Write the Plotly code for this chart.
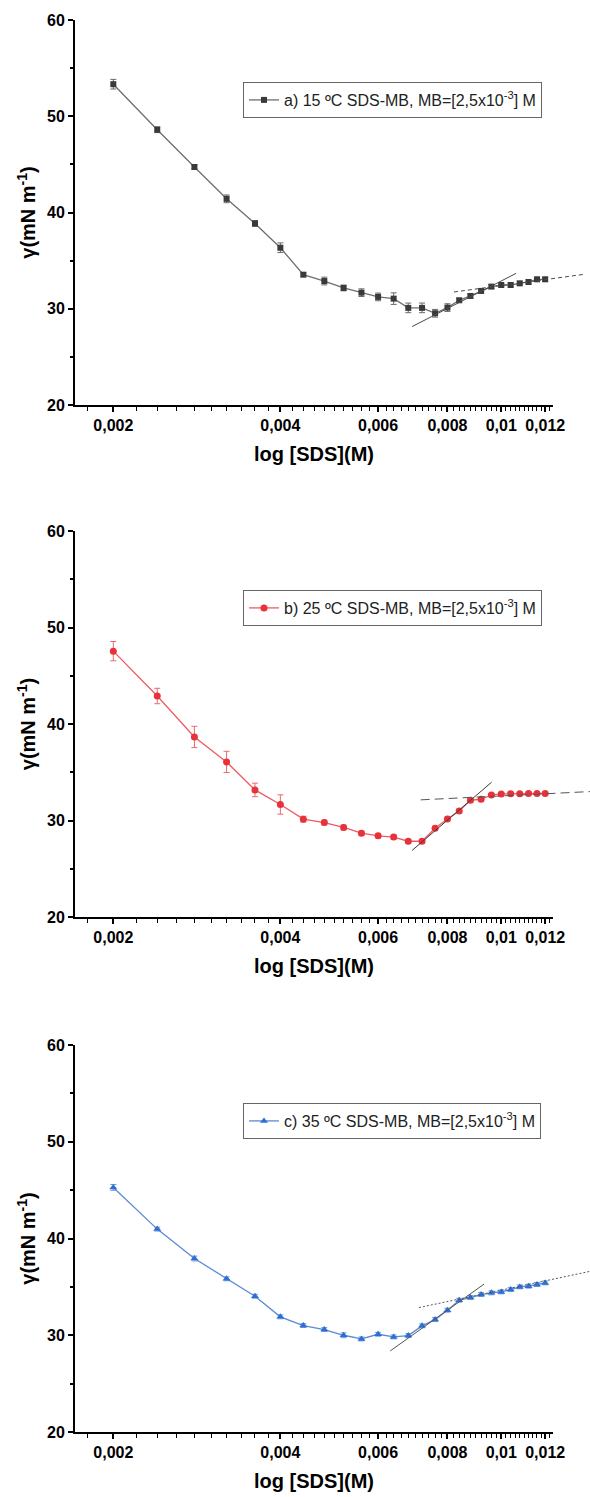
import plotly.graph_objects as go

# ---------------- data ----------------
conc = [0.0020, 0.0024, 0.0028, 0.0032, 0.0036, 0.0040, 0.0044, 0.0048, 0.0052,
        0.0056, 0.0060, 0.0064, 0.0068, 0.0072, 0.0076, 0.0080, 0.0084, 0.0088,
        0.0092, 0.0096, 0.0100, 0.0104, 0.0108, 0.0112, 0.0116, 0.0120]

gamma_15 = [53.33, 48.60, 44.73, 41.42, 38.86, 36.34, 33.54, 32.88, 32.16, 31.67,
            31.23, 31.05, 30.09, 30.09, 29.53, 30.12, 30.88, 31.33, 31.85, 32.30,
            32.47, 32.47, 32.64, 32.78, 33.06, 33.06]
err_15 = [0.5, 0.3, 0.2, 0.4, 0.3, 0.5, 0.2, 0.4, 0.3, 0.4, 0.4, 0.6, 0.5, 0.5,
          0.4, 0.4, 0.2, 0.2, 0.2, 0.2, 0.2, 0.2, 0.2, 0.2, 0.2, 0.2]

gamma_25 = [47.55, 42.90, 38.66, 36.07, 33.17, 31.66, 30.14, 29.79, 29.28, 28.69,
            28.41, 28.28, 27.85, 27.85, 29.19, 30.16, 30.98, 32.10, 32.20, 32.64,
            32.75, 32.78, 32.78, 32.80, 32.80, 32.80]
err_25 = [1.0, 0.8, 1.1, 1.1, 0.7, 1.0, 0.3, 0.25, 0.25, 0.2, 0.2, 0.2, 0.2, 0.2,
          0.2, 0.2, 0.2, 0.2, 0.2, 0.15, 0.15, 0.15, 0.15, 0.15, 0.15, 0.15]

gamma_35 = [45.28, 40.97, 37.93, 35.83, 34.03, 31.90, 31.00, 30.59, 30.00, 29.62,
            30.10, 29.83, 29.97, 30.97, 31.62, 32.59, 33.62, 33.90, 34.21, 34.38,
            34.48, 34.72, 35.00, 35.07, 35.24, 35.41]
err_35 = [0.3, 0.2, 0.25, 0.2, 0.2, 0.2, 0.2, 0.2, 0.25, 0.2, 0.2, 0.2, 0.2, 0.2,
          0.2, 0.2, 0.2, 0.2, 0.2, 0.2, 0.2, 0.2, 0.2, 0.2, 0.2, 0.2]

# linear fits (end points)
fit15_steep_x = [0.00691, 0.01064]; fit15_steep_y = [28.15, 33.68]
fit15_plat_x = [0.00822, 0.01411];  fit15_plat_y = [31.74, 33.58]
fit25_steep_x = [0.00691, 0.00961]; fit25_steep_y = [26.90, 33.97]
fit25_plat_x = [0.00716, 0.01450];  fit25_plat_y = [32.14, 33.00]
fit35_steep_x = [0.00631, 0.00931]; fit35_steep_y = [28.38, 35.28]
fit35_plat_x = [0.00711, 0.01450];  fit35_plat_y = [32.86, 36.62]

labels = ["a) 15 ºC SDS-MB, MB=[2,5x10<sup>-3</sup>] M",
          "b) 25 ºC SDS-MB, MB=[2,5x10<sup>-3</sup>] M",
          "c) 35 ºC SDS-MB, MB=[2,5x10<sup>-3</sup>] M"]

x_tickvals = [0.002, 0.004, 0.006, 0.008, 0.010, 0.012]
x_ticktext = ["0,002", "0,004", "0,006", "0,008", "0,01", "0,012"]
x_minor = [0.0018, 0.0022, 0.0024, 0.0026, 0.0028, 0.0030, 0.0032, 0.0034, 0.0036,
           0.0038, 0.0042, 0.0044, 0.0046, 0.0048, 0.0050, 0.0052, 0.0054, 0.0056,
           0.0058, 0.0062, 0.0064, 0.0066, 0.0068, 0.0070, 0.0072, 0.0074, 0.0076,
           0.0078, 0.0082, 0.0084, 0.0086, 0.0088, 0.0090, 0.0092, 0.0094, 0.0096,
           0.0098, 0.0102, 0.0104, 0.0106, 0.0108, 0.0110, 0.0112, 0.0114, 0.0116,
           0.0118, 0.0122, 0.0124]
y_tickvals = [20, 30, 40, 50, 60]
y_minor = [25, 35, 45, 55]

# ---------------- layout geometry ----------------
W, H = 590, 1497
ML, MR, MT, MB = 75, 0, 20, 65
pw = W - ML - MR
ph = H - MT - MB
plot_right_px = 553
xd = (plot_right_px - ML) / pw
x_lo, x_hi = -2.768, -1.9067
x4_hi = x_lo + (x_hi - x_lo) / xd

def ydom(top_px, bot_px):
    base = H - MB
    return [(base - bot_px) / ph, (base - top_px) / ph]

panels = [
    dict(top=20, bot=405, leg_top=82),
    dict(top=531, bot=917, leg_top=590),
    dict(top=1045, bot=1432, leg_top=1103),
]

FONT = "Liberation Sans, Arial, sans-serif"

series = [
    dict(y=gamma_15, e=err_15, sym="square", msize=6, mcol="#3a3a3a", lcol="#6e6e6e",
         ecol="#6a6a6a", fits=[(fit15_steep_x, fit15_steep_y, "solid", "#4a4a4a"),
                               (fit15_plat_x, fit15_plat_y, "4px,3px", "#4a4a4a")]),
    dict(y=gamma_25, e=err_25, sym="circle", msize=7, mcol="#e8323b", lcol="#ef5a5f",
         ecol="#e86a6e", fits=[(fit25_steep_x, fit25_steep_y, "solid", "#3a3a3a"),
                               (fit25_plat_x, fit25_plat_y, "9px,5px", "#555555")]),
    dict(y=gamma_35, e=err_35, sym="triangle-up", msize=7, mcol="#2f6fd4", lcol="#5a8ad4",
         ecol="#6f9ae0", fits=[(fit35_steep_x, fit35_steep_y, "solid", "#555555"),
                               (fit35_plat_x, fit35_plat_y, "2px,2px", "#555555")]),
]

fig = go.Figure()
legend_names = ["legend", "legend2", "legend3"]

for i, (s, p) in enumerate(zip(series, panels)):
    xa = "x" if i == 0 else f"x{i+1}"
    ya = "y" if i == 0 else f"y{i+1}"
    fig.add_trace(go.Scatter(
        x=conc, y=s["y"], mode="lines+markers", name=labels[i],
        xaxis=xa, yaxis=ya, legend=legend_names[i],
        line=dict(color=s["lcol"], width=1.3),
        marker=dict(symbol=s["sym"], size=s["msize"], color=s["mcol"]),
        error_y=dict(type="data", array=s["e"], visible=True, color=s["ecol"],
                     thickness=1, width=3),
    ))
    for fx, fy, dash, col in s["fits"]:
        fig.add_trace(go.Scatter(
            x=fx, y=fy, mode="lines", xaxis="x4", yaxis=ya, showlegend=False,
            line=dict(color=col, width=1, dash=dash), hoverinfo="skip",
        ))

axis_common = dict(showline=True, linecolor="black", linewidth=1.8, ticks="outside",
                   tickcolor="black", tickwidth=1.5, ticklen=5, showgrid=False,
                   zeroline=False, automargin=False,
                   tickfont=dict(family=FONT, size=16, color="black", weight="bold"))

layout = dict(
    width=W, height=H, margin=dict(l=ML, r=MR, t=MT, b=MB),
    paper_bgcolor="white", plot_bgcolor="rgba(0,0,0,0)",
    font=dict(family=FONT, color="black"),
    xaxis4=dict(domain=[0, 1], type="log", range=[x_lo, x4_hi], visible=False,
                anchor="y", fixedrange=True),
)

for i, p in enumerate(panels):
    sx = "" if i == 0 else str(i + 1)
    ya = "y" if i == 0 else f"y{i+1}"
    xa = "x" if i == 0 else f"x{i+1}"
    layout["xaxis" + sx] = dict(
        domain=[0, xd], anchor=ya, type="log", range=[x_lo, x_hi],
        tickmode="array", tickvals=x_tickvals, ticktext=x_ticktext,
        minor=dict(tickmode="array", tickvals=x_minor, ticks="outside", ticklen=4,
                   tickwidth=1.2, tickcolor="black", showgrid=False),
        title=dict(text="<b>log [SDS](M)</b>", font=dict(family=FONT, size=20, color="black"),
                   standoff=14),
        **axis_common)
    layout["yaxis" + sx] = dict(
        domain=ydom(p["top"], p["bot"]), anchor=xa, range=[20, 60],
        tickmode="array", tickvals=y_tickvals,
        minor=dict(tickmode="array", tickvals=y_minor, ticks="outside",
                   ticklen=3, tickwidth=1.5, tickcolor="black", showgrid=False),
        title=dict(text="<b>γ(mN m<sup>-1</sup>)</b>", font=dict(family=FONT, size=20, color="black"),
                   standoff=6),
        **axis_common)
    layout[legend_names[i]] = dict(
        x=(243 - ML) / pw, xanchor="left",
        y=(H - MB - p["leg_top"]) / ph, yanchor="top",
        bgcolor="white", bordercolor="#666666", borderwidth=1,
        font=dict(family=FONT, size=16, color="#222222"),
        itemwidth=30, tracegroupgap=0,
    )

fig.update_layout(**layout)
fig.write_html("out.html")
